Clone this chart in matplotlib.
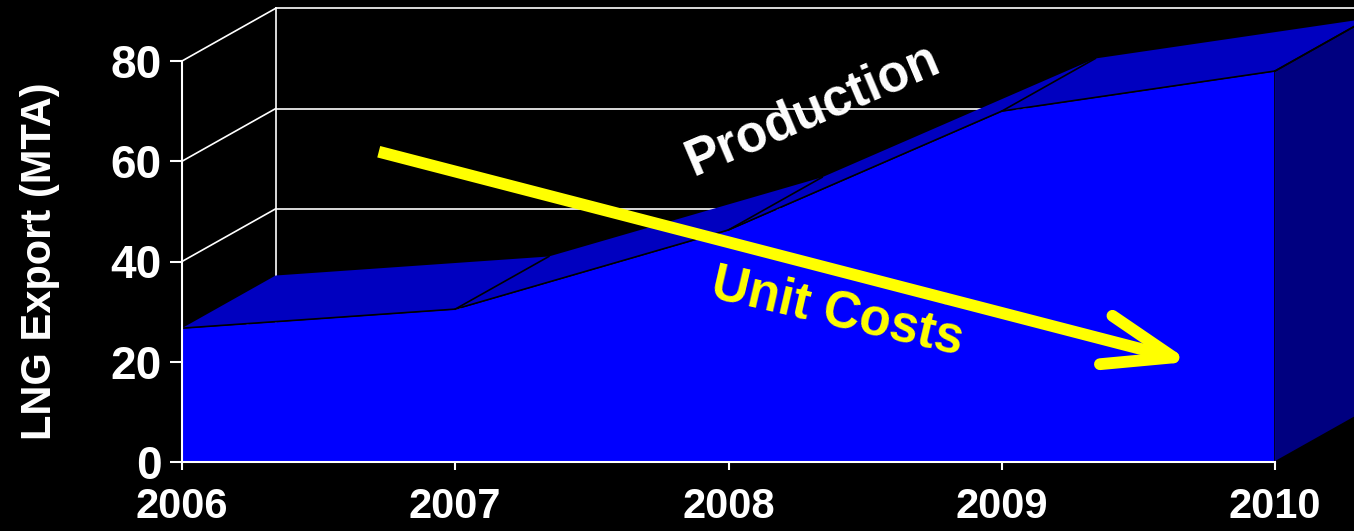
import matplotlib
matplotlib.use('Agg')
import matplotlib.pyplot as plt
from matplotlib.patches import Polygon

plt.rcParams['font.family'] = ['Liberation Sans', 'DejaVu Sans']
plt.rcParams['font.weight'] = 'bold'

# data
years = [2006, 2007, 2008, 2009, 2010]
production = [26.7, 30.5, 46.3, 70.0, 78.0]
yticks = [0, 20, 40, 60, 80]

# depth of the fake 3d look (in data units)
dx = 0.3425
dy = 10.5

front_col = '#0000FF'
top_col = '#0000C0'
side_col = '#000080'

fig = plt.figure(figsize=(13.54, 5.31), dpi=100, facecolor='black')
ax = fig.add_axes([182/1354, 69/531, 1093/1354, 401/531])
ax.set_facecolor('black')
ax.set_xlim(years[0], years[-1])
ax.set_ylim(0, 80)

# back wall grid + wall edges
for v in yticks:
    ax.plot([years[0] + dx, years[-1] + dx + 1], [v + dy, v + dy], color='white', lw=1.2, zorder=1, clip_on=False)
    ax.plot([years[0], years[0] + dx], [v, v + dy], color='white', lw=1.2, zorder=1, clip_on=False)
ax.plot([years[0] + dx, years[0] + dx], [dy, yticks[-1] + dy], color='white', lw=1.2, zorder=1, clip_on=False)

# top faces
for i in range(len(years) - 1):
    x0, x1 = years[i], years[i + 1]
    v0, v1 = production[i], production[i + 1]
    poly = Polygon([(x0, v0), (x1, v1), (x1 + dx, v1 + dy), (x0 + dx, v0 + dy)],
                   closed=True, facecolor=top_col, edgecolor='none', zorder=2, clip_on=False)
    ax.add_patch(poly)
    ax.plot([x1, x1 + dx], [v1, v1 + dy], color='black', lw=1.2, zorder=4, clip_on=False)

# right side face
side = Polygon([(years[-1], 0), (years[-1], production[-1]), (years[-1] + dx, production[-1] + dy),
                (years[-1] + dx, dy)], closed=True, facecolor=side_col, edgecolor='black', lw=1.2,
               zorder=3, clip_on=False)
ax.add_patch(side)

# front face
ax.fill_between(years, 0, production, color=front_col, lw=0, zorder=3)
ax.plot(years, production, color='black', lw=1.2, zorder=4, clip_on=False)
ax.plot([years[-1], years[-1]], [0, production[-1]], color='black', lw=1.2, zorder=4)

# axes styling
for s in ['top', 'right']:
    ax.spines[s].set_visible(False)
for s in ['left', 'bottom']:
    ax.spines[s].set_color('white')
    ax.spines[s].set_linewidth(1.5)
    ax.spines[s].set_zorder(5)
ax.set_xticks(years)
ax.set_yticks(yticks)
ax.tick_params(axis='y', colors='white', length=8.6, width=1.5, pad=6, labelsize=33)
ax.tick_params(axis='x', colors='white', length=6, width=1.5, pad=12, labelsize=30)

fig.text(40/1354, 1 - 261/531, 'LNG Export (MTA)', rotation=90, color='white',
         fontsize=30, fontweight='bold', ha='center', va='center')

# annotations
ax.text(2008.31, 70.2, 'Production', rotation=23, color='white', fontsize=37,
        fontweight='bold', ha='center', va='center', zorder=6)
ax.text(2008.40, 29.9, 'Unit Costs', rotation=-13, color='yellow', fontsize=37,
        fontweight='bold', ha='center', va='center', zorder=6)

x0, y0 = 2006.72, 61.9
x1, y1 = 2009.69, 20.0
xm, ym = x0 + 0.7 * (x1 - x0), y0 + 0.7 * (y1 - y0)
ax.plot([x0, xm], [y0, ym], color='yellow', lw=8.5, solid_capstyle='butt', zorder=6)
ax.annotate('', xy=(x1, y1), xytext=(xm, ym),
            arrowprops=dict(arrowstyle='->,head_length=1.0,head_width=0.36', mutation_scale=50,
                            color='yellow', lw=8.5, capstyle='round', joinstyle='round',
                            shrinkA=0, shrinkB=0), zorder=6)

plt.savefig('out.png', dpi=100, facecolor='black')
